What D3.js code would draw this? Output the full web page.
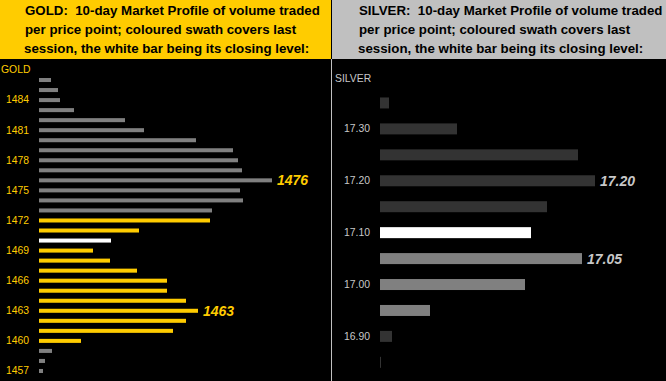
<!DOCTYPE html>
<html lang="en">
<head>
<meta charset="utf-8">
<title>Gold / Silver market profile</title>
<script src="https://cdn.jsdelivr.net/npm/d3@7"></script>
<style>
  body { margin: 0; background: #000; }
  svg { display: block; font-family: "Liberation Sans", Arial, sans-serif; }
</style>
</head>
<body>
<script>
// gold: price points (top to bottom) and volume per price
var goldPrices = [1486,1485,1484,1483,1482,1481,1480,1479,1478,1477,1476,1475,1474,1473,1472,
                  1471,1470,1469,1468,1467,1466,1465,1464,1463,1462,1461,1460,1459,1458,1457];
var goldVolume = [12,19,21,35,86,105,157,194,199,203,233,201,204,173,171,
                  100,72,54,71,98,128,128,147,159,147,134,42,13,6,4];
var goldSession = [1460, 1472];     // last session range (coloured swath)
var goldClose = 1470;
var goldTicks = [1484,1481,1478,1475,1472,1469,1466,1463,1460,1457];
var goldMarked = [1476, 1463];

// silver
var silverPrices = [17.35,17.30,17.25,17.20,17.15,17.10,17.05,17.00,16.95,16.90,16.85];
var silverVolume = [9,77,198,215,167,151,202,145,50,12,1];
var silverSession = [16.95, 17.10];
var silverClose = 17.10;
var silverTicks = [17.30,17.20,17.10,17.00,16.90];
var silverMarked = [17.20, 17.05];

var W = 666, H = 381;
var svg = d3.select("body").append("svg").attr("width", W).attr("height", H);
svg.append("rect").attr("width", W).attr("height", H).attr("fill", "#000");

// headers
var headerLines = ["10-day Market Profile of volume traded",
                   "per price point; coloured swath covers last",
                   "session, the white bar being its closing level:"];
function header(x0, w, bg, name, tx) {
  svg.append("rect").attr("x", x0).attr("y", 0).attr("width", w).attr("height", 59).attr("fill", bg);
  var t = svg.append("text").attr("font-size", "13.3px").attr("font-weight", "bold").attr("fill", "#000");
  headerLines.forEach(function(s, i) {
    t.append("tspan").attr("x", tx - (i == 2 ? 1 : 0)).attr("y", 15 + i * 19)
      .text(i == 0 ? name + ":\u00a0\u00a0" + s : s);
  });
}
header(0, 331, "#FFCC00", "GOLD", 25);
header(332, 334, "#C0C0C0", "SILVER", 359);

// divider
svg.append("rect").attr("x", 331).attr("y", 59).attr("width", 1).attr("height", H - 59).attr("fill", "#C0C0C0");

function profile(o) {
  var y = d3.scaleBand().domain(o.prices).range(o.yRange)
    .paddingInner(o.padIn).paddingOuter(o.padIn / 2);
  var x = d3.scaleLinear().domain([0, d3.max(o.volume)]).range(o.xRange);
  var g = svg.append("g");

  g.selectAll("rect.bar").data(o.prices).enter().append("rect")
    .attr("class", "bar")
    .attr("x", x(0))
    .attr("y", function(d) { return y(d); })
    .attr("width", function(d, i) { return x(o.volume[i]) - x(0); })
    .attr("height", y.bandwidth())
    .attr("fill", function(d) {
      if (d == o.close) return "#FFFFFF";
      if (d >= o.session[0] && d <= o.session[1]) return o.swath;
      return o.other;
    });

  var axis = d3.axisLeft(y).tickValues(o.ticks).tickSize(0).tickPadding(0).tickFormat(o.fmt);
  var ag = g.append("g").attr("transform", "translate(" + o.axisX + ",0)").call(axis);
  ag.select(".domain").remove();
  ag.selectAll("text").attr("fill", o.labelColor).attr("font-size", "10.4px")
    .attr("font-family", "Liberation Sans, Arial, sans-serif");

  g.append("text").attr("x", o.titleX).attr("y", o.titleY)
    .attr("fill", o.labelColor).attr("font-size", "10.4px").text(o.title);

  g.selectAll("text.mark").data(o.marked).enter().append("text")
    .attr("class", "mark")
    .attr("x", function(d) { return x(o.volume[o.prices.indexOf(d)]) + 5; })
    .attr("y", function(d) { return y(d) + y.bandwidth() / 2; })
    .attr("dy", "0.36em")
    .attr("font-size", "14px").attr("font-weight", "bold").attr("font-style", "italic")
    .attr("fill", o.markColor)
    .text(o.fmt);
}

profile({
  prices: goldPrices, volume: goldVolume, session: goldSession, close: goldClose,
  ticks: goldTicks, marked: goldMarked, fmt: d3.format("d"),
  yRange: [75, 376], padIn: 0.6, xRange: [39, 272],
  swath: "#FFCC00", other: "#808080",
  axisX: 29, labelColor: "#FFCC00", markColor: "#FFCC00",
  title: "GOLD", titleX: 1, titleY: 73
});

profile({
  prices: silverPrices, volume: silverVolume, session: silverSession, close: silverClose,
  ticks: silverTicks, marked: silverMarked, fmt: d3.format(".2f"),
  yRange: [90, 375.3], padIn: 0.576, xRange: [380, 595],
  swath: "#808080", other: "#333333",
  axisX: 370, labelColor: "#C8C8C8", markColor: "#C8C8C8",
  title: "SILVER", titleX: 335, titleY: 82
});
</script>
</body>
</html>
